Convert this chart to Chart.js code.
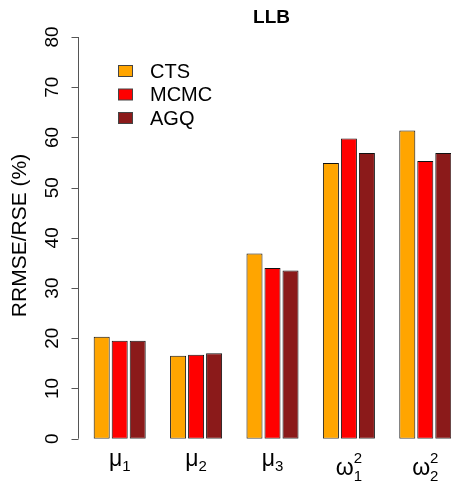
<!DOCTYPE html>
<html>
<head>
<meta charset="utf-8">
<script src="https://cdn.jsdelivr.net/npm/chart.js@4"></script>
<style>
  html, body { margin: 0; padding: 0; overflow: hidden; background: #fff; }
  canvas { display: block; }
</style>
</head>
<body>
<canvas id="myChart" width="470" height="481"></canvas>
<script>
// categories: base symbol, subscript, superscript
const labelBase = ['μ', 'μ', 'μ', 'ω', 'ω'];
const labelSub = ['1', '2', '3', '1', '2'];
const labelSup = ['', '', '', '2', '2'];
const categories = ['μ1', 'μ2', 'μ3', 'ω1^2', 'ω2^2'];

const methods = ['CTS', 'MCMC', 'AGQ'];
const cts = [20.3, 16.5, 36.9, 54.9, 61.4];
const mcmc = [19.5, 16.7, 34.0, 59.8, 55.3];
const agq = [19.5, 17.0, 33.5, 56.9, 56.9];
const yTicks = [0, 10, 20, 30, 40, 50, 60, 70, 80];

const colors = ['#FFA500', '#FF0000', '#8B1A1A'];
const FONT = '"Liberation Sans", Arial, sans-serif';

// R-style axis, title, legend and math labels
const rDecor = {
    id: 'rDecor',
    afterDraw(chart) {
        const ctx = chart.ctx;
        const x = chart.scales.x;
        const y = chart.scales.y;
        const axisX = 78.5;
        ctx.save();
        ctx.fillStyle = '#000';

        // y axis line and ticks
        ctx.strokeStyle = '#555';
        ctx.lineWidth = 1;
        ctx.beginPath();
        ctx.moveTo(axisX, y.getPixelForValue(yTicks[0]));
        ctx.lineTo(axisX, y.getPixelForValue(yTicks[yTicks.length - 1]));
        yTicks.forEach(t => {
            const py = Math.round(y.getPixelForValue(t)) + 0.5;
            ctx.moveTo(axisX, py);
            ctx.lineTo(axisX - 7, py);
        });
        ctx.stroke();

        // rotated tick labels
        ctx.font = '19px ' + FONT;
        ctx.textAlign = 'center';
        ctx.textBaseline = 'middle';
        yTicks.forEach(t => {
            ctx.save();
            ctx.translate(53, y.getPixelForValue(t));
            ctx.rotate(-Math.PI / 2);
            ctx.fillText(String(t), 0, 0);
            ctx.restore();
        });

        // y axis title
        ctx.save();
        ctx.font = '21px ' + FONT;
        ctx.translate(20, 235.5);
        ctx.rotate(-Math.PI / 2);
        ctx.fillText('RRMSE/RSE (%)', 0, 0);
        ctx.restore();

        // main title
        ctx.font = 'bold 19px ' + FONT;
        ctx.textBaseline = 'alphabetic';
        ctx.fillText('LLB', 271.5, 23);

        // legend
        ctx.textAlign = 'left';
        ctx.textBaseline = 'middle';
        ctx.font = '20px ' + FONT;
        methods.forEach((m, i) => {
            const cy = 71 + i * 23.5;
            ctx.fillStyle = colors[i];
            ctx.fillRect(118.5, cy - 5.5, 14, 11);
            ctx.strokeStyle = '#444';
            ctx.strokeRect(118.5, cy - 5.5, 14, 11);
            ctx.fillStyle = '#000';
            ctx.fillText(m, 150, cy + 1);
        });

        // x labels with sub/superscripts
        ctx.textBaseline = 'alphabetic';
        categories.forEach((c, i) => {
            const cx = x.getPixelForValue(i);
            const hasSup = labelSup[i] !== '';
            ctx.font = '23px ' + FONT;
            const wb = ctx.measureText(labelBase[i]).width;
            ctx.font = '15px ' + FONT;
            const ws = Math.max(ctx.measureText(labelSub[i]).width, ctx.measureText(labelSup[i]).width);
            const left = cx - (wb + ws) / 2;
            const base = hasSup ? 475 : 466;
            ctx.font = '23px ' + FONT;
            ctx.fillText(labelBase[i], left, base);
            ctx.font = '15px ' + FONT;
            ctx.fillText(labelSub[i], left + wb, base + (hasSup ? 6 : 5));
            if (hasSup) ctx.fillText(labelSup[i], left + wb, base - 12);
        });
        ctx.restore();
    }
};

const ctx = document.getElementById('myChart').getContext('2d');
const series = [cts, mcmc, agq];

new Chart(ctx, {
    type: 'bar',
    data: {
        labels: categories,
        datasets: methods.map((m, i) => ({
            label: m,
            data: series[i],
            backgroundColor: colors[i],
            borderColor: '#111',
            borderWidth: 1,
            borderSkipped: false
        }))
    },
    options: {
        responsive: false,
        animation: false,
        layout: {
            padding: { left: 81.5, right: 6.5, top: 37, bottom: 42.3 }
        },
        datasets: {
            bar: { categoryPercentage: 0.707, barPercentage: 0.89 }
        },
        scales: {
            x: { display: false },
            y: { display: false, min: 0, max: 80 }
        },
        plugins: {
            legend: { display: false },
            tooltip: { enabled: false }
        }
    },
    plugins: [rDecor]
});
</script>
</body>
</html>
